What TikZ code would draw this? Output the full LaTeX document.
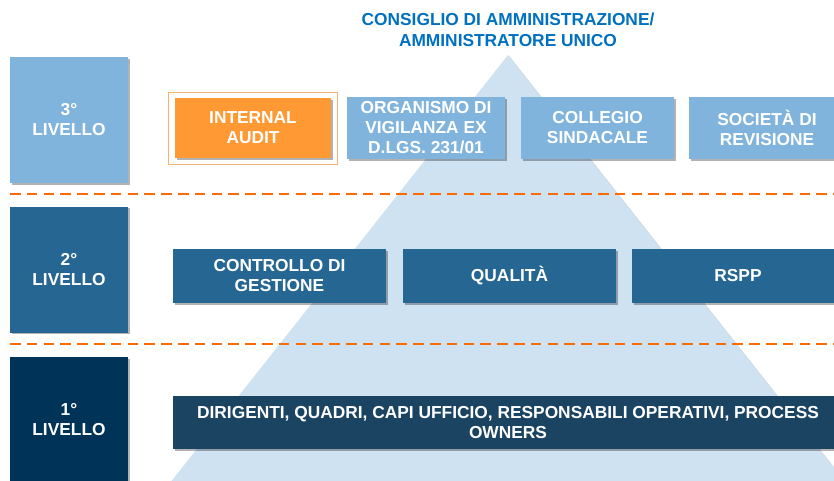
\documentclass[tikz,border=0pt]{standalone}
\usepackage{fontspec}
\setmainfont{Liberation Sans}
\usetikzlibrary{shadows,calc}
\definecolor{lvlthree}{HTML}{80B4DC}
\definecolor{lvltwo}{HTML}{266692}
\definecolor{lvlone}{HTML}{003358}
\definecolor{rowone}{HTML}{1B4463}
\definecolor{auditfill}{HTML}{FF9933}
\definecolor{auditframe}{HTML}{F7B273}
\definecolor{pyramid}{HTML}{CFE2F1}
\definecolor{sepline}{HTML}{FF6A00}
\definecolor{titleblue}{HTML}{0070C0}

\begin{document}
\begin{tikzpicture}[x=0.75pt, y=-0.75pt,
		lbl/.style={text=white, font=\bfseries\fontsize{13}{15}\selectfont, align=center, inner sep=0pt},
		box/.style={lbl, drop shadow={shadow xshift=1.2pt, shadow yshift=-1.2pt, opacity=0.3, fill=black}},
		lvlbox/.style={box, minimum width=88.5pt, minimum height=94.5pt},
		sep/.style={sepline, line width=1.5pt, dash pattern=on 8pt off 4.6pt}]
				\path[use as bounding box, clip] (0,0) rectangle (834,481);
				\fill[pyramid, drop shadow={shadow xshift=1pt, shadow yshift=-1pt, opacity=0.25, fill=black}] (508,55) -- (859.5,500) -- (156.5,500) -- cycle;
				\draw[sep] (10,194) -- (834,194);
				\draw[sep] (10,344) -- (834,344);
				\node[lbl, text=titleblue, font=\bfseries\fontsize{13}{16}\selectfont] (cda)at(508, 30) {CONSIGLIO DI AMMINISTRAZIONE/\\AMMINISTRATORE UNICO};
				\node[lvlbox, fill=lvlthree] (L3)at(69, 120) {3°\\LIVELLO};
				\node[lvlbox, fill=lvltwo] (L2)at(69, 269.5) {2°\\LIVELLO};
				\node[lvlbox, fill=lvlone] (L1)at(69, 420) {1°\\LIVELLO};
				\node[box, fill=auditfill, minimum width=117pt, minimum height=45pt] (audit)at(253, 128) {INTERNAL\\AUDIT};
				\draw[auditframe, line width=0.9pt] ($(audit.north west)+(-6,-5)$) rectangle ($(audit.south east)+(6,6)$);
				\node[box, fill=lvlthree, minimum width=118.5pt, minimum height=46.5pt] (odv)at(426, 128) {ORGANISMO DI\\VIGILANZA EX\\D.LGS. 231/01};
				\node[box, fill=lvlthree, minimum width=114.75pt, minimum height=46.5pt] (collegio)at(597.5, 128) {COLLEGIO\\SINDACALE};
				\node[box, fill=lvlthree, minimum width=117pt, minimum height=46.5pt] (revisione)at(767, 128) {SOCIETÀ DI\\REVISIONE};
				\node[box, fill=lvltwo, minimum width=159.75pt, minimum height=40.5pt] (cdg)at(279.5, 276) {CONTROLLO DI\\GESTIONE};
				\node[box, fill=lvltwo, minimum width=159.75pt, minimum height=40.5pt] (qualita)at(509.5, 276) {QUALITÀ};
				\node[box, fill=lvltwo, minimum width=159pt, minimum height=40.5pt] (rspp)at(738, 276) {RSPP};
				\node[box, fill=rowone, minimum width=502.5pt, minimum height=39.75pt] (owners)at(508, 422.5) {DIRIGENTI, QUADRI, CAPI UFFICIO, RESPONSABILI OPERATIVI, PROCESS\\OWNERS};
			\end{tikzpicture}
\end{document}
